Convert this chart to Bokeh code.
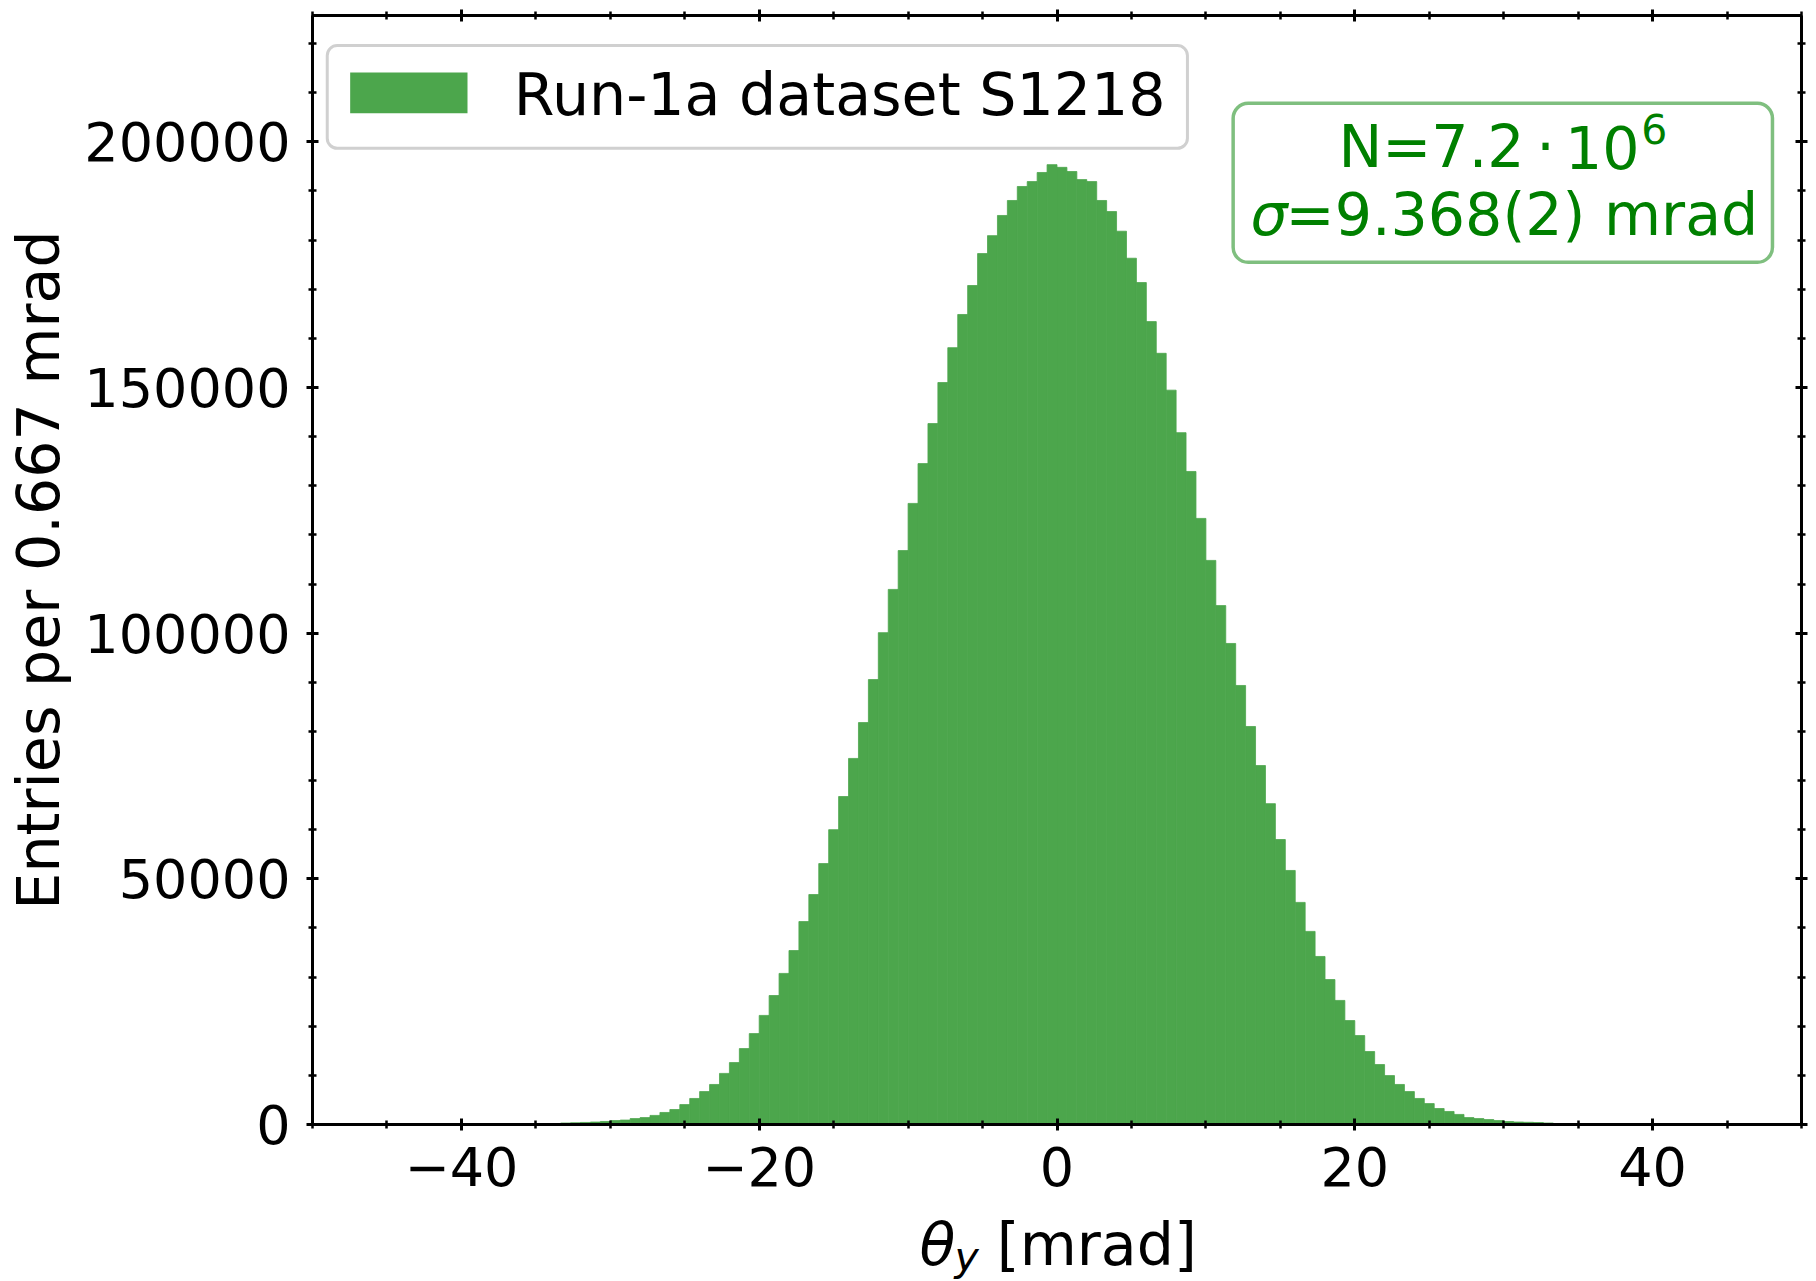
import numpy as np
from bokeh.plotting import figure
from bokeh.layouts import column
from bokeh.models import ColumnDataSource, LinearAxis, FixedTicker, Range1d, BoxAnnotation, Label
from bokeh.embed import file_html
from bokeh.resources import INLINE

# ---------------- data ----------------
bin_lo, bin_hi, n_bins = -50.0, 50.0, 150
counts_core = [
    300, 350, 420, 500, 620, 800, 900, 1200, 1400, 1850,
    2450, 3050, 4050, 5300, 6700, 8150, 10400, 12600, 15450, 18500,
    22200, 26250, 30750, 35400, 41300, 46800, 53100, 60000, 66750, 74500,
    81800, 90550, 100100, 108900, 116800, 126400, 134500, 142650, 151000, 158100,
    164850, 170750, 177250, 180900, 185000, 188050, 190900, 191900, 193750, 195350,
    194800, 193950, 192300, 191900, 188050, 185800, 181800, 176300, 171350, 163400,
    156950, 149450, 140800, 132900, 123350, 114800, 105600, 97900, 89350, 81000,
    73050, 65300, 58000, 51700, 45200, 39300, 34200, 29500, 25250, 21150,
    18100, 14850, 12200, 9950, 8150, 6700, 5300, 4250, 3250, 2650,
    2050, 1400, 1200, 1000, 800, 600, 500, 450, 400, 300,
]
counts = [0] * 25 + counts_core + [0] * 25
legend_label = "Run-1a dataset S1218"
x_major = [-40, -20, 0, 20, 40]
x_minor = list(range(-50, 51, 5))
y_major = [0, 50000, 100000, 150000, 200000]
y_minor = list(range(0, 230001, 10000))
x_tick_text = {-40: "\u221240", -20: "\u221220", 0: "0", 20: "20", 40: "40"}
y_tick_text = {v: str(v) for v in y_major}
y_max = 225700

edges = np.linspace(bin_lo, bin_hi, n_bins + 1)
src = ColumnDataSource(dict(left=edges[:-1], right=edges[1:], top=counts))

FONT = "DejaVu Sans"
GREEN = "#008000"
BAR = "#4ca64c"   # green at alpha 0.7 on white
TXT = "58.6px"
SUB = "41px"
W = 1816

p = figure(width=W, height=1210, output_backend="svg", toolbar_location=None,
           x_range=Range1d(bin_lo, bin_hi), y_range=Range1d(0, y_max),
           min_border_left=312, min_border_right=15, min_border_top=15,
           min_border_bottom=86)
p.grid.visible = False
p.outline_line_color = None
p.background_fill_color = "white"
p.border_fill_color = "white"

p.quad(left="left", right="right", top="top", bottom=0, source=src,
       fill_color=BAR, line_color=BAR, line_width=0.8)


def style_axis(ax, major, minor, show_labels):
    ax.ticker = FixedTicker(ticks=major, minor_ticks=minor)
    ax.axis_line_width = 3
    ax.axis_line_color = "black"
    ax.major_tick_in = 6
    ax.major_tick_out = 6
    ax.minor_tick_in = 4
    ax.minor_tick_out = 4
    ax.major_tick_line_width = 3
    ax.minor_tick_line_width = 2.5
    ax.major_label_text_font = FONT
    if show_labels:
        ax.major_label_text_font_size = "54px"
        ax.major_label_text_color = "black"
    else:
        ax.major_label_text_font_size = "1px"
        ax.major_label_text_color = None
        ax.major_label_standoff = 0


xa = p.xaxis[0]
style_axis(xa, x_major, x_minor, True)
xa.major_label_overrides = x_tick_text
xa.major_label_standoff = 16

ya = p.yaxis[0]
style_axis(ya, y_major, y_minor, True)
ya.major_label_overrides = y_tick_text
ya.major_label_standoff = 16
ya.axis_label = "Entries per 0.667 mrad"
ya.axis_label_text_font = FONT
ya.axis_label_text_font_size = TXT
ya.axis_label_text_font_style = "normal"
ya.axis_label_text_color = "black"
ya.axis_label_standoff = 8

top_ax = LinearAxis()
style_axis(top_ax, x_major, x_minor, False)
p.add_layout(top_ax, "above")
right_ax = LinearAxis()
style_axis(right_ax, y_major, y_minor, False)
p.add_layout(right_ax, "right")


def lab(fig, x, y, text, size, color="black", style="normal", align="left"):
    l = Label(x=x, y=y, text=text, text_font=FONT, text_font_size=size,
              text_color=color, text_font_style=style, text_align=align,
              text_baseline="alphabetic")
    fig.add_layout(l)
    return l


def rbox(l, r, t, b, fill, falpha, lc, lalpha, lw, radius):
    box = BoxAnnotation(left=l, right=r, top=t, bottom=b, fill_color=fill,
                        fill_alpha=falpha, line_color=lc, line_alpha=lalpha,
                        line_width=lw)
    if radius and "border_radius" in BoxAnnotation.properties():
        box.border_radius = radius
    p.add_layout(box)
    return box

# legend (rounded frame, patch, label)
rbox(-49.01, 8.76, 219580, 198680, "white", 0.8, "#d0d0d0", 1.0, 3, 10)
rbox(-47.47, -39.59, 214080, 205800, BAR, 1.0, None, 0, 0, 0)
lab(p, -36.48, 209565, legend_label, TXT)

# statistics box
rbox(11.83, 48.05, 207840, 175480, "white", 1.0, GREEN, 0.5, 3.5, 15)
lab(p, 18.90, 198840, "N=7.2", TXT, color=GREEN)
lab(p, 32.81, 198840, "\u00b7", TXT, color=GREEN, align="center")
lab(p, 34.12, 198840, "10", TXT, color=GREEN)
lab(p, 39.24, 202560, "6", SUB, color=GREEN)
lab(p, 13.0, 185140, "\u03c3", TXT, color=GREEN, style="italic")
lab(p, 15.35, 185140, "=9.368(2) mrad", TXT, color=GREEN)

# x-axis title strip (theta_y [mrad]) under the plot, same horizontal scale
strip_h = 1281 - 1210
p_lab = figure(width=W, height=strip_h, output_backend="svg", toolbar_location=None,
               x_range=p.x_range, y_range=Range1d(0, strip_h),
               min_border_left=312, min_border_right=15, min_border_top=0,
               min_border_bottom=0, x_axis_location=None, y_axis_location=None)
p_lab.grid.visible = False
p_lab.outline_line_color = None
p_lab.background_fill_color = "white"
p_lab.border_fill_color = "white"
lab(p_lab, -9.23, 36.4, "\u03b8", TXT, style="italic")
lab(p_lab, -6.89, 24.3, "y", SUB, style="italic")
lab(p_lab, -4.04, 36.4, "[mrad]", TXT)

layout = column(p, p_lab, spacing=0)
open("out.html", "w").write(file_html(layout, INLINE))
